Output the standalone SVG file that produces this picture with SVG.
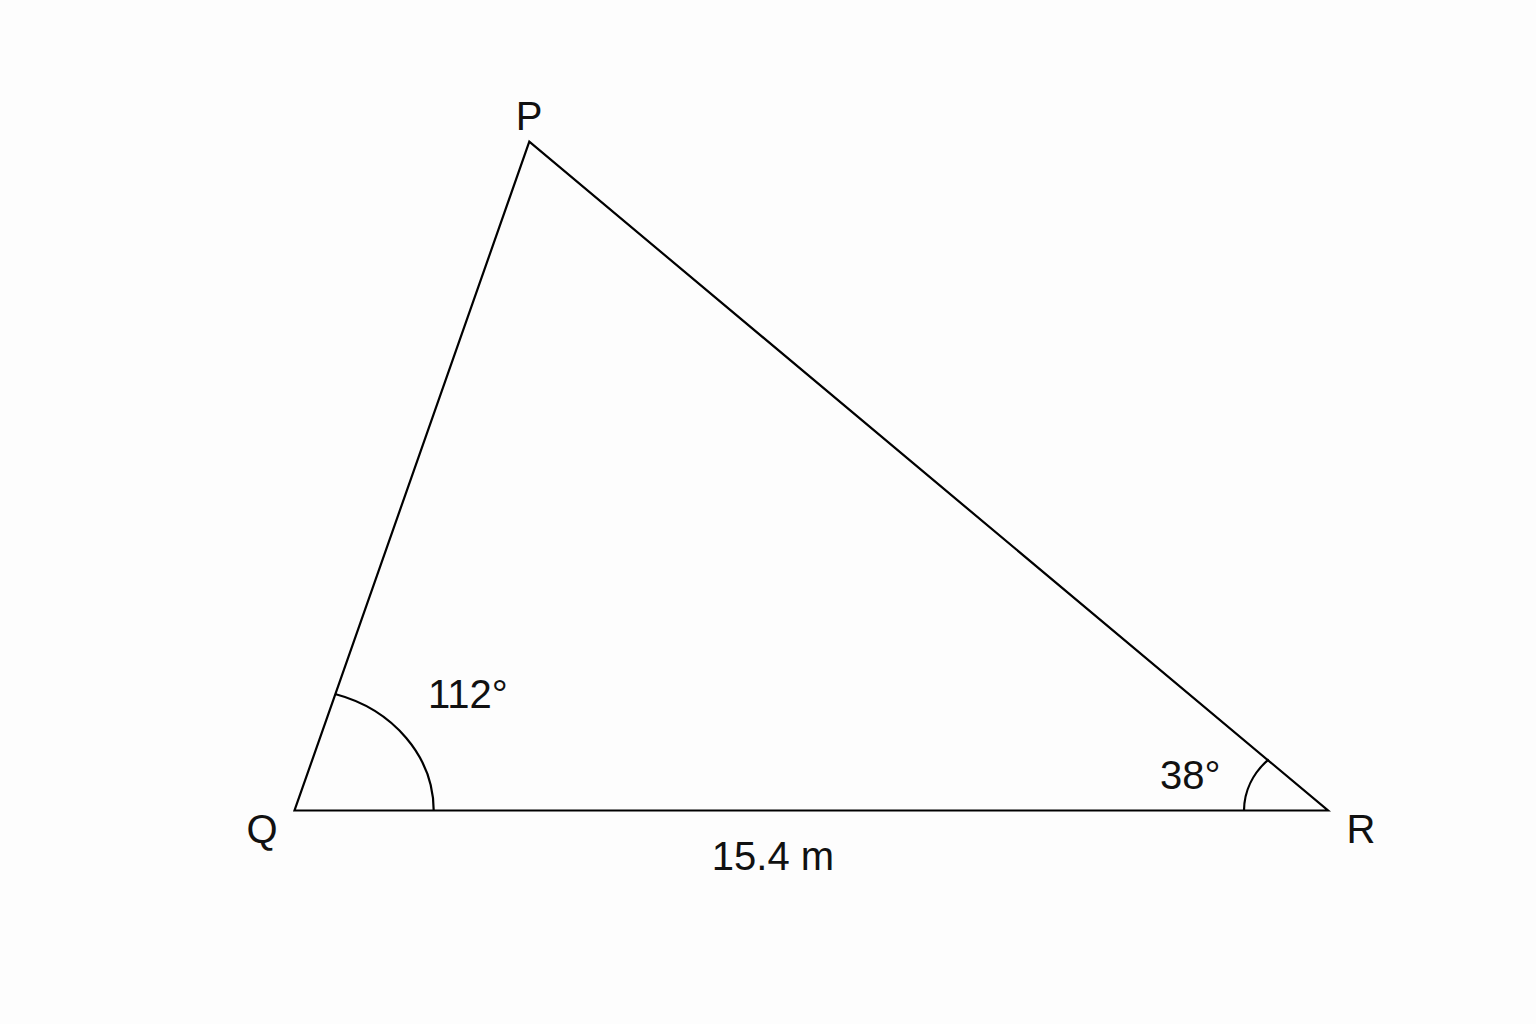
<svg xmlns="http://www.w3.org/2000/svg" width="1536" height="1024" viewBox="0 0 1536 1024">
<style>
.ln{fill:none;stroke:#000;stroke-width:2.2;stroke-linejoin:miter}
.lb{font-family:"Liberation Sans",Arial,sans-serif;font-size:40px;fill:#111}
</style>
<rect width="1536" height="1024" fill="#fdfdfd"/>
<g id="connectors">
<path class="ln" d="M529.3,141.7 L294.5,810.5 L1328,810.5 Z"/>
<path class="ln" d="M433.7,810.5 A139,122 0 0 0 335,694"/>
<path class="ln" d="M1244,810.5 A84,73 0 0 1 1268.7,759.3"/>
</g>
<g id="P"><text class="lb" x="529" y="130" text-anchor="middle">P</text></g>
<g id="Q"><text class="lb" x="262" y="843" text-anchor="middle">Q</text></g>
<g id="R"><text class="lb" x="1361" y="843" text-anchor="middle">R</text></g>
<g id="angleQ"><text class="lb" x="428" y="708">112°</text></g>
<g id="angleR"><text class="lb" x="1160" y="789">38°</text></g>
<g id="side"><text class="lb" x="773" y="870" text-anchor="middle">15.4 m</text></g>
</svg>
